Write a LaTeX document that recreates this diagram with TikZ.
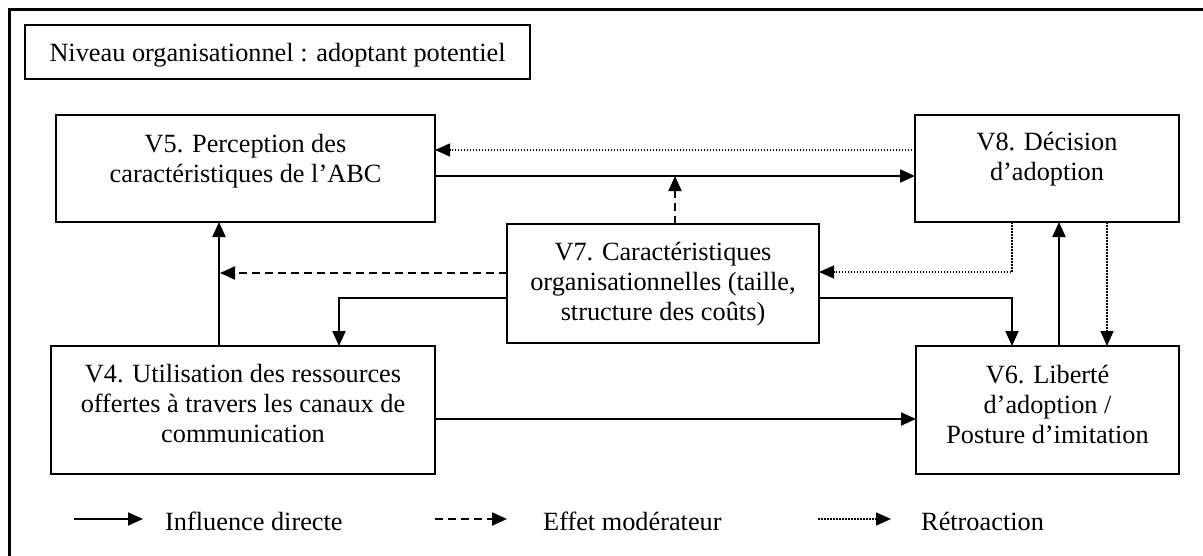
\documentclass[tikz,border=0pt]{standalone}
\usepackage{fontspec}
\setmainfont{Liberation Serif}
\usetikzlibrary{arrows.meta,calc}
\tikzset{
  box/.style={draw, line width=2pt, inner sep=0pt, outer sep=0pt},
  txt/.style={align=center, inner sep=0pt, font=\fontsize{26.3pt}{30pt}\selectfont},
  legtxt/.style={inner sep=0pt, font=\fontsize{26.3pt}{30pt}\selectfont},
  tip/.style={-{Triangle[length=15pt,width=13pt]}},
  direct/.style={line width=2pt, tip},
  moder/.style={line width=2pt, dash pattern=on 8pt off 5pt, tip},
  retro/.style={line width=1.5pt, dash pattern=on 1.5pt off 1.5pt, tip},
}
\begin{document}
\begin{tikzpicture}[x=1pt,y=-1pt]
\useasboundingbox (0,0) rectangle (1203,555);
\fill[white] (0,0) rectangle (1203,555);
% outer frame (right and bottom sides outside the picture)
\draw[line width=3pt] (1210,9) -- (9,9) -- (9,562);
% title
\node[box, minimum width=505pt, minimum height=54pt] (title) at (277.5,52) {};
\node[legtxt, anchor=base] (titletxt) at (277.5,61) {Niveau organisationnel : adoptant potentiel};
% boxes
\node[box, minimum width=379pt, minimum height=107pt] (v5) at (245.5,168.5) {};
\node[box, minimum width=264pt, minimum height=107pt] (v8) at (1047,168.5) {};
\node[box, minimum width=312pt, minimum height=119pt] (v7) at (663,283.5) {};
\node[box, minimum width=384pt, minimum height=128pt] (v4) at (243,410) {};
\node[box, minimum width=263pt, minimum height=128pt] (v6) at (1047.5,410) {};
% texts
\node[txt, anchor=north] (v5t) at ([yshift=-16pt]v5.north) {\strut V5. Perception des\\caractéristiques de l’ABC};
\node[txt, anchor=north] (v8t) at ([yshift=-14pt]v8.north) {\strut V8. Décision\\d’adoption};
\node[txt, anchor=north] (v7t) at ([yshift=-15pt]v7.north) {\strut V7. Caractéristiques\\organisationnelles (taille,\\structure des coûts)};
\node[txt, anchor=north] (v4t) at ([yshift=-15pt]v4.north) {\strut V4. Utilisation des ressources\\offertes à travers les canaux de\\communication};
\node[txt, anchor=north] (v6t) at ([yshift=-16pt]v6.north) {\strut V6. Liberté\\d’adoption /\\Posture d’imitation};
% helper coordinates
\coordinate (h1) at (0,176);
\coordinate (h2) at (0,150);
\coordinate (h3) at (0,419);
\coordinate (m1) at (675,176);
\coordinate (m2) at (220,273);
\coordinate (c219) at (219,0);
\coordinate (k1) at (339,298);
\coordinate (k2) at (1012,298);
\coordinate (k3) at (1012,272);
\coordinate (c1059) at (1059,0);
\coordinate (c1107) at (1107,0);
% connectors
\draw[direct] (v5.east |- h1) -- (v8.west |- h1);
\draw[retro] (v8.west |- h2) -- (v5.east |- h2);
\draw[moder] (v7.north -| m1) -- (m1);
\draw[moder] (v7.west |- m2) -- (m2);
\draw[direct] (v4.north -| c219) -- (v5.south -| c219);
\draw[direct] (v7.west |- k1) -| (v4.north -| k1);
\draw[direct] (v7.east |- k2) -| (v6.north -| k2);
\draw[retro] (v8.south -| k3) |- (v7.east |- k3);
\draw[direct] (v6.north -| c1059) -- (v8.south -| c1059);
\draw[retro] (v8.south -| c1107) -- (v6.north -| c1107);
\draw[direct] (v4.east |- h3) -- (v6.west |- h3);
% legend
\coordinate (l1a) at (74,519);
\coordinate (l1b) at (143,519);
\coordinate (l2a) at (435,519);
\coordinate (l2b) at (507,519);
\coordinate (l3a) at (818,519);
\coordinate (l3b) at (891,519);
\draw[direct] (l1a) -- (l1b);
\draw[moder] (l2a) -- (l2b);
\draw[retro] (l3a) -- (l3b);
\node[legtxt, anchor=base west] (leg1) at (165,530) {Influence directe};
\node[legtxt, anchor=base west] (leg2) at (543,530) {Effet modérateur};
\node[legtxt, anchor=base west] (leg3) at (921,530) {Rétroaction};
\end{tikzpicture}
\end{document}
